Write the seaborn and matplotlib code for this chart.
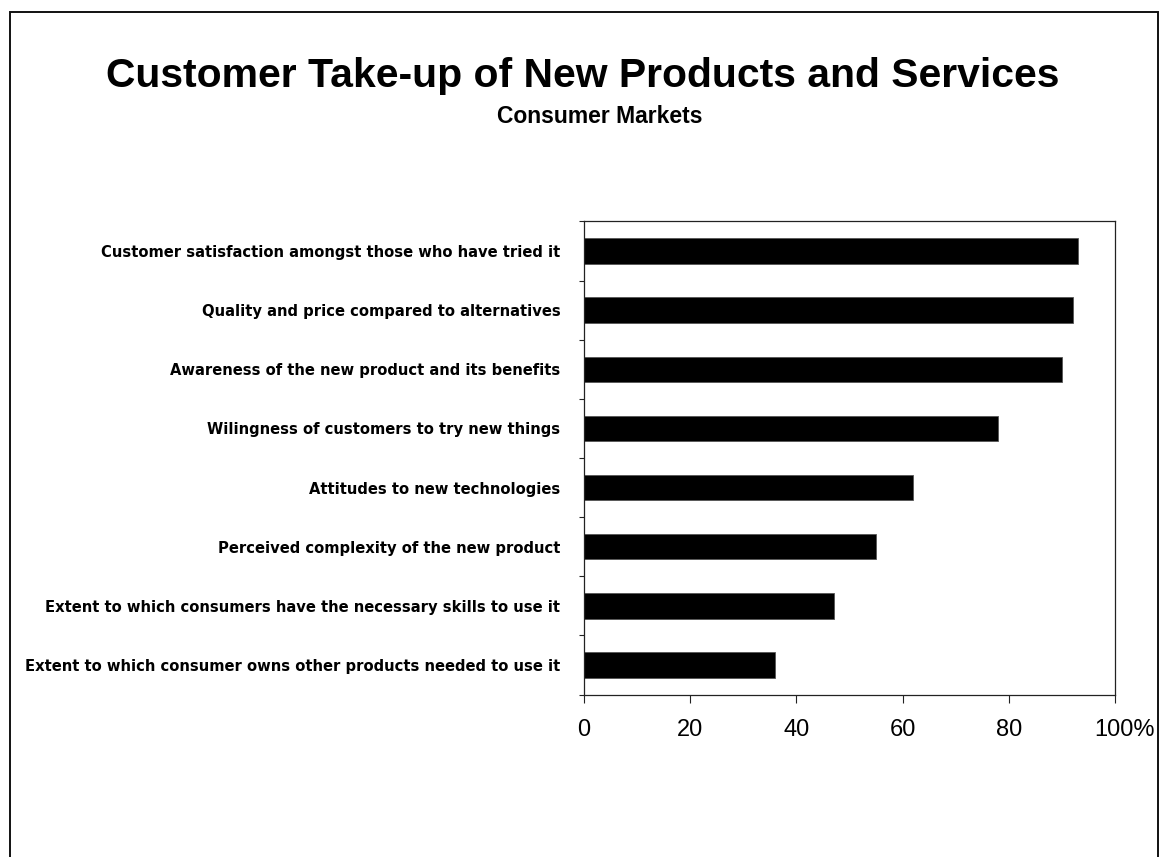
import matplotlib
matplotlib.use("Agg")
import matplotlib.pyplot as plt
from matplotlib.patches import Rectangle
from matplotlib.transforms import ScaledTranslation
import seaborn as sns
import pandas as pd

# Survey factors and share of respondents rating each as important (%)
factors = [
    "Customer satisfaction amongst those who have tried it",
    "Quality and price compared to alternatives",
    "Awareness of the new product and its benefits",
    "Wilingness of customers to try new things",
    "Attitudes to new technologies",
    "Perceived complexity of the new product",
    "Extent to which consumers have the necessary skills to use it",
    "Extent to which consumer owns other products needed to use it",
]
scores = [93, 92, 90, 78, 62, 55, 47, 36]
x_ticks = [0, 20, 40, 60, 80, 100]
x_tick_labels = ["0", "20", "40", "60", "80", "100%"]

title = "Customer Take-up of New Products and Services"
subtitle = "Consumer Markets"

sns.set_style("ticks")
plt.rcParams["font.family"] = ["Liberation Sans", "DejaVu Sans"]
plt.rcParams["text.color"] = "black"
plt.rcParams["xtick.color"] = "black"
plt.rcParams["ytick.color"] = "black"
plt.rcParams["axes.labelcolor"] = "black"

W, H = 1160, 857
fig = plt.figure(figsize=(W / 100, H / 100), dpi=100)
fig.patch.set_facecolor("white")

left, right, top, bottom = 584, 1115, 221.4, 694.6
ax = fig.add_axes([left / W, 1 - bottom / H, (right - left) / W, (bottom - top) / H])

df = pd.DataFrame({"factor": factors, "score": scores})
sns.barplot(data=df, x="score", y="factor", orient="h", color="black",
            width=0.43, saturation=1, edgecolor="#555555", linewidth=0.6, ax=ax)

ax.set_xlim(0, 100)
ax.set_ylim(len(factors) - 0.5, -0.5)
ax.set_xlabel("")
ax.set_ylabel("")

# x axis
ax.set_xticks(x_ticks)
ax.set_xticklabels(x_tick_labels, fontsize=17, color="black")
ax.tick_params(axis="x", direction="out", length=5.5, width=0.8, color="#222222", pad=12)
last = ax.get_xticklabels()[-1]
last.set_transform(last.get_transform() + ScaledTranslation(9 / 100, 0, fig.dpi_scale_trans))

# y axis: labels at bar centres, tick marks between categories
ax.set_yticks(range(len(factors)))
ax.set_yticklabels(factors, fontsize=10.6, fontweight="bold", color="black",
                   family=["DejaVu Sans"])
ax.tick_params(axis="y", which="major", length=0, pad=17)
ax.set_yticks([i - 0.5 for i in range(len(factors) + 1)], minor=True)
ax.tick_params(axis="y", which="minor", direction="out", length=3.5, width=0.8, color="#222222")

for side in ["left", "right", "top", "bottom"]:
    ax.spines[side].set_visible(True)
    ax.spines[side].set_color("#222222")
    ax.spines[side].set_linewidth(0.9)

# titles
fig.text(583 / W, 1 - 86.7 / H, title, ha="center", va="baseline",
         fontsize=29.4, fontweight="bold", color="black")
fig.text(600 / W, 1 - 123 / H, subtitle, ha="center", va="baseline",
         fontsize=16.5, fontweight="bold", color="black")

# outer chart-area border (runs past the bottom edge)
fig.patches.append(Rectangle((9.5 / W, -0.05), (1157.5 - 9.5) / W, (1 - 12 / H) + 0.05,
                             transform=fig.transFigure, fill=False,
                             edgecolor="#111111", linewidth=1.4, clip_on=False))

fig.savefig("out.png", dpi=100, facecolor="white")
